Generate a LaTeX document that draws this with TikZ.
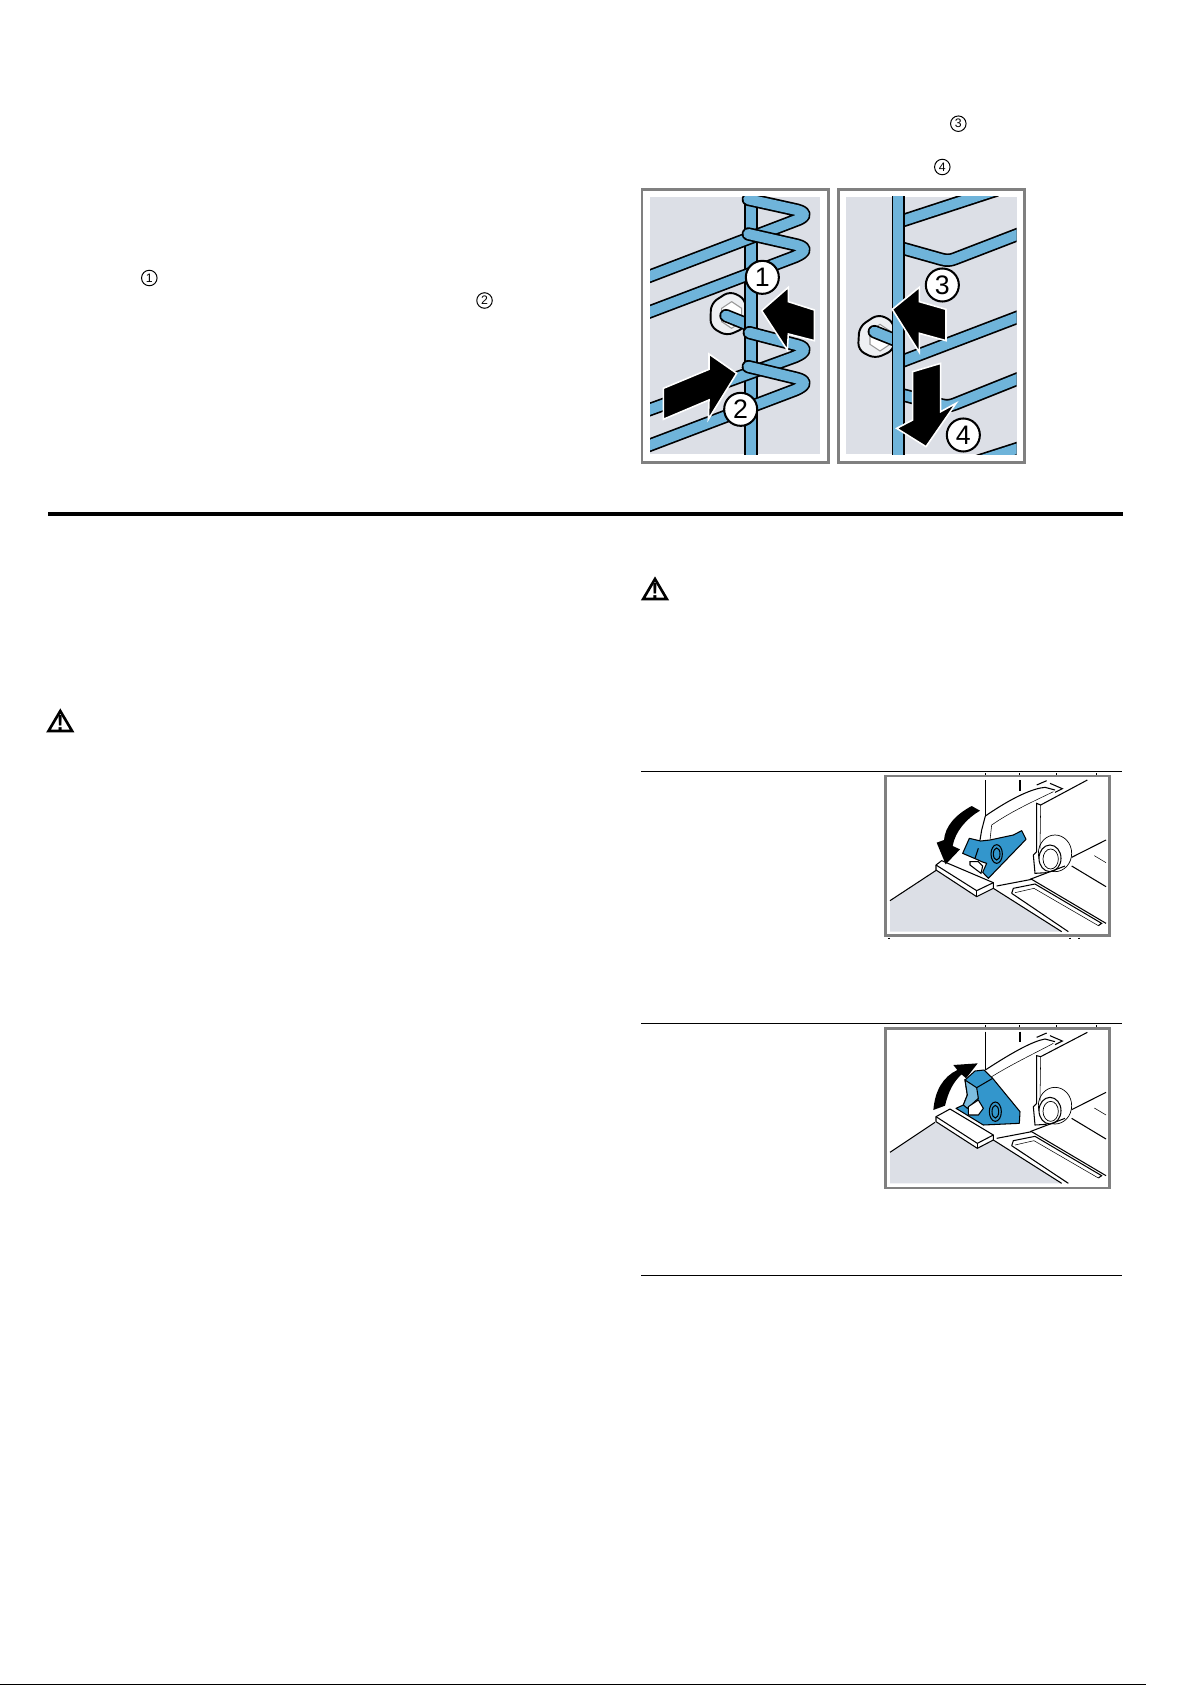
\documentclass[tikz,border=0pt]{standalone}
\usepackage{fontspec}
\setmainfont{Liberation Sans}
\definecolor{rodblue}{HTML}{6FB4DA}
\definecolor{partblue}{HTML}{3396CC}
\definecolor{lightblue}{HTML}{7CBDE0}
\definecolor{panelgrey}{HTML}{DCDFE6}
\definecolor{framegrey}{HTML}{808080}
\definecolor{ringgrey}{HTML}{EEF0F3}
\tikzset{
    rod/.style={draw=black, double=rodblue, line width=0.48pt, double distance=2.85pt, line join=round},
    frame/.style={draw=framegrey, line width=0.68pt},
    bigarrow/.style={draw=white, fill=black, line width=0.45pt, line join=miter},
    bignum/.style={circle, draw=black, fill=white, line width=0.58pt, minimum size=0.33cm, inner sep=0pt, font=\fontsize{7.6}{8}\selectfont},
    smallnum/.style={circle, draw=black, line width=0.28pt, minimum size=0.155cm, inner sep=0pt, font=\fontsize{3.5}{4}\selectfont},
    washer/.style={draw=black, fill=ringgrey, line width=0.55pt, rounded corners=2pt},
    thinline/.style={draw=black, line width=0.3pt},
    part/.style={draw=black, fill=partblue, line width=0.3pt, line join=round},
    warnmark/.style={draw=black, line width=0.75pt, line join=miter},
    warntext/.style={inner sep=0pt, font=\bfseries\fontsize{6.2}{7}\selectfont}
}
\begin{document}
\begin{tikzpicture}[x=0.01cm, y=-0.01cm]
    \useasboundingbox (0,0) rectangle (1192,1685);
    \fill[white] (0,0) rectangle (1192,1685);

    % Rules
    \draw[black, line width=1.2pt] (48,514) -- (1123,514);
    \draw[thinline] (641,771.7) -- (1122,771.7);
    \draw[thinline] (641,1023.5) -- (1122,1023.5);
    \draw[thinline] (641,1275.3) -- (1122,1275.3);
    \draw[black, line width=0.4pt] (0,1684.4) -- (1146,1684.4);

    % Numbers in the text
    \node[smallnum] (textone) at (149.3,278) {1};
    \node[smallnum] (texttwo) at (484.5,300.5) {2};
    \node[smallnum] (textthree) at (958.3,123.7) {3};
    \node[smallnum] (textfour) at (942.3,167) {4};

    % Warning signs
    \draw[warnmark] (60.3,711) -- (48.5,731) -- (72.1,731) -- cycle;
    \node[warntext] (warnleft) at (60.3,723) {!};
    \draw[warnmark] (655,579) -- (643.2,599) -- (666.8,599) -- cycle;
    \node[warntext] (warnright) at (655,591) {!};

    % Left and right rack pictures
    \begin{scope}[shift={(630,100)}, scale=1/3]
        \fill[panelgrey] (60,291) rectangle (570,1063);
        \fill[panelgrey] (648,291) rectangle (1160,1063);

        % left rack
        \begin{scope}
            \clip (60,291) rectangle (570,1063);
            % bolt
            \draw[washer] (243,610) -- (300,573) -- (347,598) -- (347,682) -- (290,708) -- (241,680) -- cycle;
            \draw[thinline, draw=black!40, fill=white] (275,625) -- (305,605) -- (335,625) -- (335,665) -- (305,685) -- (275,665) -- cycle;
            \draw[rod, line cap=round] (288,647) -- (350,672);
            % uprights
            \draw[rod] (363,280) -- (363,1075);
            % wires
            \draw[rod, line cap=round] (50,532) -- (495,362) .. controls (530,350) and (530,338) .. (500,330) -- (355,298);
            \draw[rod, line cap=round] (50,639) -- (495,470) .. controls (530,455) and (530,443) .. (500,435) -- (355,402);
            \draw[rod, line cap=round] (50,932) -- (495,770) .. controls (530,755) and (530,743) .. (500,735) -- (358,698);
            \draw[rod, line cap=round] (50,1039) -- (495,870) .. controls (530,855) and (530,843) .. (500,835) -- (355,800);
            % arrows
            \draw[bigarrow] (395,632) -- (475,562) -- (475,605) -- (553,630) -- (553,722) -- (475,702) -- (472,750) -- cycle;
            \draw[bigarrow] (100,865) -- (237,808) -- (237,762) -- (320,820) -- (235,958) -- (237,900) -- (100,958) -- cycle;
        \end{scope}
        \node[bignum] (stepone) at (397,532) {1};
        \node[bignum] (steptwo) at (332,928) {2};

        % right rack
        \begin{scope}
            \clip (648,291) rectangle (1160,1063);
            % bolt
            \draw[washer] (688,680) -- (745,642) -- (792,666) -- (792,750) -- (735,776) -- (684,750) -- cycle;
            \draw[thinline, draw=black!40, fill=white] (720,693) -- (750,673) -- (780,693) -- (780,733) -- (750,753) -- (720,733) -- cycle;
            \draw[rod, line cap=round] (733,695) -- (795,720);
            % wires
            \draw[rod] (800,368) -- (1100,270);
            \draw[rod] (800,440) -- (935,478) .. controls (950,482) and (960,482) .. (975,476) -- (1180,397);
            \draw[rod] (800,790) -- (1180,645);
            \draw[rod] (800,880) -- (935,915) .. controls (950,918) and (960,918) .. (975,912) -- (1180,830);
            \draw[rod] (1040,1085) -- (1180,1040);
            % upright
            \draw[rod] (805,280) -- (805,1075);
            % arrows
            \draw[bigarrow] (787,628) -- (868,562) -- (868,605) -- (948,628) -- (948,722) -- (868,700) -- (868,757) -- cycle;
            \draw[bigarrow] (848,815) -- (932,790) -- (932,935) -- (978,910) -- (888,1040) -- (800,985) -- (848,960) -- cycle;
        \end{scope}
        \node[bignum] (stepthree) at (937,555) {3};
        \node[bignum] (stepfour) at (1000,1005) {4};

        % frames
        \draw[frame] (36,268) rectangle (595,1087);
        \draw[frame] (626,268) rectangle (1184,1087);
    \end{scope}

    % Shelf support, clip pressed down
    \begin{scope}[shift={(880,760)}, scale=1/3]
        \draw[frame] (16,48) rectangle (689,527);
        \fill[panelgrey] (30,422) -- (170,330) -- (340,385) -- (545,515) -- (30,515) -- cycle;
        \draw[thinline] (30,422) -- (170,330);
        \draw[thinline] (340,385) -- (545,515);
        % picture edge ticks
        \draw[thinline] (316,40) -- (316,45);
        \draw[thinline] (418,40) -- (418,45);
        \draw[thinline] (530,40) -- (530,45);
        \draw[thinline] (650,40) -- (650,45);
        \draw[thinline] (27,533) -- (27,538);
        \draw[thinline] (570,533) -- (570,538);
        \draw[thinline] (597,533) -- (597,538);
        % rail and knob
        \draw[thinline] (316,60) -- (316,168);
        \draw[thinline] (420,60) -- (420,92);
        \draw[thinline] (470,75) -- (500,62);
        \draw[thinline] (510,70) -- (547,86) -- (525,97);
        \draw[thinline] (316,168) .. controls (400,110) and (460,85) .. (495,82) -- (525,90);
        \draw[thinline, line width=0.15pt] (335,195) .. controls (400,150) and (470,120) .. (520,95);
        \draw[thinline] (316,168) -- (305,210) -- (300,240);
        \draw[thinline, line width=0.15pt] (335,195) -- (330,240);
        \draw[thinline] (622,60) -- (482,135) -- (470,130) -- (470,275) -- (460,285) -- (465,340) -- (500,338);
        \draw[thinline, line width=0.15pt] (482,135) -- (480,265);
        \draw[thinline, line width=0.2pt] (525,280) circle [x radius=50, y radius=55];
        \draw[thinline, fill=white] (510,295) circle [x radius=33, y radius=40];
        \draw[thinline, line width=0.2pt] (512,297) circle [x radius=23, y radius=30];
        \draw[thinline] (575,292) -- (678,240);
        \draw[thinline] (555,318) -- (450,358);
        \draw[thinline] (575,318) -- (678,380);
        \draw[thinline, line width=0.15pt] (643,287) -- (678,308);
        \draw[thinline] (350,378) -- (455,358) -- (678,490);
        \draw[thinline] (395,400) -- (400,385) -- (465,372) -- (665,490) -- (655,497);
        \draw[thinline, line width=0.15pt] (405,398) -- (462,385) -- (655,497);
        \draw[thinline] (395,400) -- (565,515);
        % clip
        \draw[part] (268,235) -- (302,243) -- (330,240) -- (400,225) -- (425,212) -- (438,238) -- (325,355) -- (308,337) -- (320,310) -- (305,305) -- (290,298) -- (248,280) -- cycle;
        \draw[thinline, fill=white] (270,305) -- (295,305) -- (308,318) -- (303,340) -- (270,315) -- cycle;
        \draw[thinline] (350,282) circle [x radius=17, y radius=28];
        \draw[thinline] (350,282) circle [x radius=10, y radius=18];
        \draw[thinline] (295,265) -- (285,295);
        % shelf edge
        \draw[thinline, fill=white, line join=round] (168,315) -- (185,302) -- (340,368) -- (340,385) -- (290,410) -- (168,330) -- cycle;
        \draw[thinline] (168,315) -- (290,392) -- (340,368);
        \draw[thinline] (290,392) -- (290,410);
        % turning arrow
        \fill[black] (275,138) .. controls (225,165) and (195,200) .. (192,240) -- (170,248) -- (197,313) -- (240,268) -- (218,258) .. controls (225,215) and (260,175) .. (300,152) -- cycle;
    \end{scope}

    % Shelf support, clip lifted up
    \begin{scope}[shift={(880,1015)}, scale=1/3]
        \draw[frame] (16,40) rectangle (689,519);
        \fill[panelgrey] (30,412) -- (165,322) -- (340,375) -- (545,505) -- (30,505) -- cycle;
        \draw[thinline] (30,412) -- (165,322);
        \draw[thinline] (340,375) -- (545,505);
        % picture edge ticks
        \draw[thinline] (316,30) -- (316,35);
        \draw[thinline] (418,30) -- (418,35);
        \draw[thinline] (530,30) -- (530,35);
        \draw[thinline] (650,30) -- (650,35);
        % rail and knob
        \draw[thinline] (316,50) -- (316,165);
        \draw[thinline] (420,50) -- (420,82);
        \draw[thinline] (470,67) -- (500,54);
        \draw[thinline] (510,62) -- (547,78) -- (525,89);
        \draw[thinline] (316,165) .. controls (400,110) and (460,78) .. (495,72) -- (525,80);
        \draw[thinline, line width=0.15pt] (335,185) .. controls (400,145) and (470,112) .. (520,85);
        \draw[thinline] (622,52) -- (482,125) -- (470,122) -- (470,265) -- (460,275) -- (465,330) -- (500,328);
        \draw[thinline, line width=0.15pt] (482,125) -- (480,257);
        \draw[thinline, line width=0.2pt] (525,272) circle [x radius=50, y radius=55];
        \draw[thinline, fill=white] (510,287) circle [x radius=33, y radius=40];
        \draw[thinline, line width=0.2pt] (512,289) circle [x radius=23, y radius=30];
        \draw[thinline] (575,284) -- (678,232);
        \draw[thinline] (555,310) -- (450,350);
        \draw[thinline] (575,310) -- (678,372);
        \draw[thinline, line width=0.15pt] (643,279) -- (678,300);
        \draw[thinline] (350,370) -- (455,350) -- (678,482);
        \draw[thinline] (395,392) -- (400,377) -- (465,364) -- (665,482) -- (655,489);
        \draw[thinline, line width=0.15pt] (405,390) -- (462,377) -- (655,489);
        \draw[thinline] (395,392) -- (565,505);
        % clip
        \draw[part] (255,195) -- (285,168) -- (312,165) -- (338,190) -- (420,290) -- (418,325) -- (310,330) -- (228,280) -- (250,270) -- (262,240) -- cycle;
        \draw[thinline, fill=lightblue] (255,195) -- (290,218) -- (295,250) -- (262,280) -- (250,270) -- (262,240) -- cycle;
        \draw[thinline] (290,218) -- (338,190);
        \draw[thinline, fill=white] (265,275) -- (295,255) -- (310,280) -- (295,300) -- (265,300) -- cycle;
        \draw[thinline] (346,290) circle [x radius=18, y radius=29];
        \draw[thinline] (346,290) circle [x radius=10, y radius=19];
        % shelf edge
        \draw[thinline, fill=white, line join=round] (168,305) -- (210,282) -- (340,360) -- (340,375) -- (292,400) -- (168,320) -- cycle;
        \draw[thinline] (168,305) -- (292,385) -- (340,360);
        \draw[thinline] (292,385) -- (292,400);
        % turning arrow
        \fill[black] (160,285) .. controls (165,225) and (190,185) .. (232,165) -- (220,150) -- (293,145) -- (258,190) -- (245,178) .. controls (220,200) and (205,230) .. (195,272) -- cycle;
    \end{scope}
\end{tikzpicture}
\end{document}
